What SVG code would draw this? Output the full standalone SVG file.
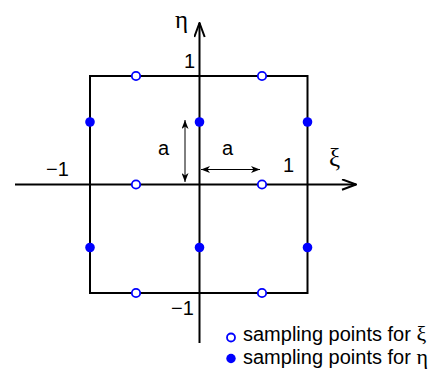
<svg xmlns="http://www.w3.org/2000/svg" width="433" height="371" viewBox="0 0 433 371">
<defs>
<style>
.ax{stroke:#000;stroke-width:2;fill:none}
.thin{stroke:#000;stroke-width:1;fill:none}
.op{fill:#fff;stroke:#0000ff;stroke-width:1.8}
.fl{fill:#0000ff;stroke:none}
.t{font-family:"Liberation Sans",Arial,sans-serif;font-size:20px;fill:#000}
.g{font-family:"Liberation Serif","Times New Roman",serif;font-size:22px;fill:#000}
.G{font-family:"Liberation Serif","Times New Roman",serif;font-size:25px;fill:#000}
</style>
<marker id="big" viewBox="0 0 16 12" refX="15" refY="6" markerWidth="16" markerHeight="12" markerUnits="userSpaceOnUse" orient="auto">
<path d="M1,0.8 L15,6 L1,11.2" fill="none" stroke="#000" stroke-width="2"/>
</marker>
<marker id="sm" viewBox="0 0 9 7" refX="9" refY="3.5" markerWidth="9" markerHeight="7" markerUnits="userSpaceOnUse" orient="auto-start-reverse">
<path d="M0,0 L9,3.5 L0,7 L2.5,3.5 Z" fill="#000"/>
</marker>
</defs>
<g id="connectors">
<line id="xi-axis" class="ax" x1="15" y1="184.5" x2="356" y2="184.5" marker-end="url(#big)"/>
<line id="eta-axis" class="ax" x1="199.5" y1="343" x2="199.5" y2="23" marker-end="url(#big)"/>
<line id="a-vert" class="thin" x1="185" y1="120" x2="185" y2="182" marker-start="url(#sm)" marker-end="url(#sm)"/>
<line id="a-horz" class="thin" x1="201" y1="169.5" x2="260" y2="169.5" marker-start="url(#sm)" marker-end="url(#sm)"/>
</g>
<g id="square">
<rect class="ax" x="90" y="76" width="217.5" height="217"/>
</g>
<g id="xi-points">
<circle class="op" cx="136" cy="76" r="4.2"/>
<circle class="op" cx="262" cy="76" r="4.2"/>
<circle class="op" cx="136" cy="184.5" r="4.2"/>
<circle class="op" cx="262" cy="184.5" r="4.2"/>
<circle class="op" cx="136" cy="293" r="4.2"/>
<circle class="op" cx="262" cy="293" r="4.2"/>
</g>
<g id="eta-points">
<circle class="fl" cx="90" cy="122" r="4.8"/>
<circle class="fl" cx="199.5" cy="122" r="4.8"/>
<circle class="fl" cx="307.5" cy="122" r="4.8"/>
<circle class="fl" cx="90" cy="247.5" r="4.8"/>
<circle class="fl" cx="199.5" cy="247.5" r="4.8"/>
<circle class="fl" cx="307.5" cy="247.5" r="4.8"/>
</g>
<g id="labels">
<text class="G" x="175" y="28">η</text>
<text class="G" x="329" y="166">ξ</text>
<text class="t" x="184" y="68">1</text>
<text class="t" x="283" y="172">1</text>
<text class="t" x="46" y="176">−1</text>
<text class="t" x="171" y="315">−1</text>
<text class="t" x="158" y="155">a</text>
<text class="t" x="222" y="155">a</text>
</g>
<g id="legend">
<circle class="op" cx="231" cy="337.5" r="4"/>
<circle class="fl" cx="231" cy="358.5" r="4.7"/>
<text class="t" x="243" y="341">sampling points for <tspan class="g">ξ</tspan></text>
<text class="t" x="243" y="364">sampling points for <tspan class="g">η</tspan></text>
</g>
</svg>
